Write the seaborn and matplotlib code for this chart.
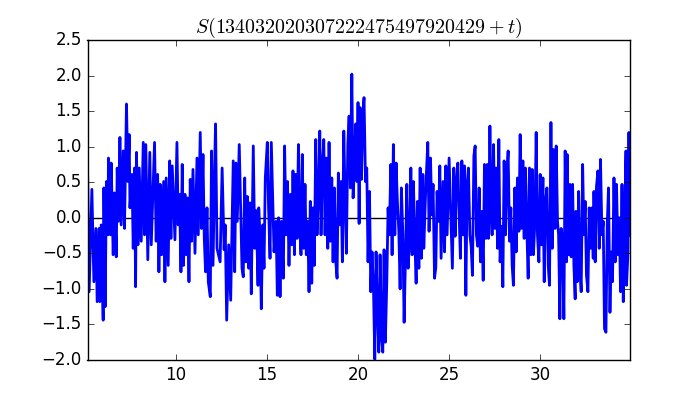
import numpy as np
import matplotlib
matplotlib.use('Agg')
import matplotlib.pyplot as plt
import seaborn as sns

# values (t, S)
t = [5.14, 5.23, 5.38, 5.49, 5.60, 5.67, 5.78, 5.82, 5.89, 6.00,
     6.04, 6.11, 6.18, 6.26, 6.29, 6.40, 6.44, 6.55, 6.62, 6.72,
     6.77, 6.84, 6.92, 6.99, 7.10, 7.17, 7.28, 7.36, 7.43, 7.47,
     7.58, 7.65, 7.72, 7.78, 7.83, 7.91, 7.98, 8.09, 8.20, 8.27,
     8.34, 8.45, 8.56, 8.64, 8.82, 8.91, 8.99, 9.06, 9.13, 9.21,
     9.32, 9.39, 9.46, 9.57, 9.65, 9.72, 9.79, 9.94, 10.05, 10.12,
     10.19, 10.27, 10.34, 10.41, 10.49, 10.56, 10.63, 10.71, 10.78, 10.85,
     10.93, 11.04, 11.15, 11.22, 11.33, 11.40, 11.48, 11.55, 11.62, 11.70,
     11.77, 11.88, 11.95, 12.03, 12.14, 12.17, 12.25, 12.42, 12.53, 12.64,
     12.70, 12.78, 12.89, 13.00, 13.07, 13.14, 13.22, 13.29, 13.36, 13.47,
     13.55, 13.62, 13.69, 13.77, 13.84, 13.91, 13.99, 14.06, 14.13, 14.24,
     14.32, 14.40, 14.50, 14.54, 14.61, 14.68, 14.76, 14.83, 14.90, 15.01,
     15.08, 15.16, 15.23, 15.30, 15.38, 15.49, 15.56, 15.63, 15.71, 15.78,
     15.89, 15.96, 16.04, 16.12, 16.20, 16.28, 16.35, 16.42, 16.50, 16.57,
     16.64, 16.72, 16.79, 16.86, 16.93, 17.01, 17.08, 17.15, 17.23, 17.30,
     17.37, 17.45, 17.52, 17.59, 17.67, 17.74, 17.82, 17.89, 17.96, 18.03,
     18.11, 18.18, 18.25, 18.33, 18.40, 18.47, 18.55, 18.62, 18.69, 18.77,
     18.84, 18.91, 18.99, 19.06, 19.13, 19.21, 19.28, 19.35, 19.43, 19.50,
     19.57, 19.65, 19.72, 19.79, 19.86, 19.93, 19.99, 20.05, 20.10, 20.18,
     20.25, 20.32, 20.40, 20.47, 20.54, 20.62, 20.69, 20.76, 20.84, 20.91,
     20.98, 21.06, 21.13, 21.20, 21.28, 21.35, 21.42, 21.49, 21.57, 21.64,
     21.71, 21.79, 21.86, 21.93, 22.01, 22.08, 22.15, 22.23, 22.30, 22.37,
     22.45, 22.52, 22.59, 22.67, 22.74, 22.82, 22.89, 22.96, 23.03, 23.11,
     23.18, 23.25, 23.33, 23.40, 23.47, 23.55, 23.60, 23.68, 23.75, 23.82,
     23.89, 23.97, 24.04, 24.11, 24.19, 24.26, 24.33, 24.41, 24.48, 24.55,
     24.66, 24.74, 24.81, 24.88, 24.99, 25.10, 25.17, 25.25, 25.32, 25.39,
     25.47, 25.54, 25.61, 25.69, 25.76, 25.83, 25.91, 25.98, 26.05, 26.13,
     26.20, 26.27, 26.35, 26.42, 26.49, 26.56, 26.64, 26.71, 26.79, 26.86,
     26.93, 27.01, 27.08, 27.15, 27.23, 27.30, 27.35, 27.43, 27.50, 27.57,
     27.65, 27.72, 27.79, 27.87, 27.94, 28.01, 28.09, 28.16, 28.23, 28.31,
     28.38, 28.45, 28.52, 28.60, 28.67, 28.74, 28.82, 28.89, 28.96, 29.04,
     29.11, 29.18, 29.26, 29.33, 29.40, 29.48, 29.55, 29.62, 29.70, 29.77,
     29.84, 29.92, 29.99, 30.06, 30.14, 30.21, 30.28, 30.36, 30.43, 30.50,
     30.58, 30.65, 30.72, 30.80, 30.87, 30.94, 31.00, 31.07, 31.14, 31.22,
     31.29, 31.36, 31.44, 31.47, 31.55, 31.62, 31.69, 31.77, 31.84, 31.91,
     31.95, 32.02, 32.10, 32.17, 32.24, 32.32, 32.39, 32.46, 32.53, 32.61,
     32.68, 32.75, 32.83, 32.90, 32.94, 33.01, 33.08, 33.16, 33.23, 33.30,
     33.38, 33.45, 33.52, 33.60, 33.67, 33.74, 33.82, 33.89, 33.96, 34.04,
     34.11, 34.18, 34.26, 34.33, 34.40, 34.48, 34.55, 34.62, 34.70, 34.73,
     34.81, 34.86, 34.92]

s = [0.77, -1.04, 0.40, -0.90, -0.15, -1.18, -0.15, -1.18, -0.10, -1.44,
     0.42, -1.25, 0.51, -0.24, 0.84, -0.24, 0.77, -0.52, 0.35, -0.55,
     0.70, -0.05, 1.13, -0.10, 0.94, -0.15, 1.60, 0.51, 1.17, 0.14,
     0.61, -0.43, 0.70, -0.97, 0.92, -0.38, 0.70, -0.33, 1.06, -0.24,
     1.03, -0.59, 0.92, -0.38, 1.06, -0.33, 0.61, -0.76, 0.47, -0.52,
     0.51, -0.90, 0.56, -0.67, 0.80, -0.29, 0.73, -0.31, 1.06, -0.10,
     0.33, -0.76, 0.75, -0.67, 0.33, -0.52, 0.28, -0.90, 0.54, -0.33,
     0.68, -0.50, 0.84, -0.24, 1.20, -0.15, 0.89, -0.29, -0.76, 0.14,
     -0.90, -1.11, 0.94, -0.67, 0.99, 1.32, -0.43, -0.62, 0.70, -0.45,
     -0.10, -1.44, -0.38, -1.16, -0.15, 0.80, -0.76, 0.77, -0.05, 1.03,
     0.10, -0.71, -0.83, 0.56, -0.62, 0.30, -0.71, 0.21, -1.07, 1.01,
     -0.43, 0.10, -0.95, 0.14, -0.24, -1.28, -0.10, -0.71, 0.56, 1.06,
     0.14, -0.57, 1.06, 0.33, -0.48, -0.05, -1.09, 0.00, -1.11, -0.05,
     -0.85, 1.01, -0.24, 0.51, -0.67, 0.33, -0.38, 0.66, -0.52, 0.61,
     -0.29, 1.03, -0.15, -0.52, 0.89, -0.43, 0.47, -0.52, -0.05, -1.04,
     0.23, -0.92, 0.14, -0.67, 1.10, -0.24, 0.35, 1.22, -0.24, 0.70,
     1.10, -0.24, 0.84, -0.43, 1.06, -0.33, 0.56, -0.62, 0.42, -0.62,
     -0.85, 0.63, -0.10, 0.51, -0.62, 1.22, 0.28, -0.50, 1.03, 1.43,
     0.42, 2.02, 0.28, 0.70, 1.32, 0.51, 1.62, -0.08, 1.55, 0.54,
     1.46, 1.69, 0.51, 0.70, -0.62, 0.37, -1.04, -0.48, -1.00, -1.99,
     -0.48, -1.33, -1.89, -0.52, -1.70, -1.89, -0.45, -1.75, -0.90, 0.14,
     -0.24, 0.75, -0.52, 1.03, -0.24, 0.77, 0.23, -0.19, -1.00, 0.42,
     -0.24, -1.47, -0.62, 0.47, -0.71, -0.30, 0.70, -0.52, 0.51, -0.33,
     -0.92, 0.23, -0.71, 0.70, -0.57, 0.61, -0.43, 0.20, 0.66, 1.06,
     -0.19, 0.84, 0.04, 0.47, -0.85, -0.70, 0.37, -0.05, 0.73, -0.57,
     0.51, -0.48, 0.73, -0.24, 0.84, -0.10, -0.71, 0.70, -0.26, 0.47,
     0.77, 0.04, -0.57, 0.80, -0.24, 0.73, -1.09, 0.47, 0.70, -0.24,
     -0.40, -0.81, 0.87, 1.01, -0.24, -0.40, 0.42, -0.62, 0.09, -0.88,
     0.75, -0.29, 0.75, -0.29, 1.29, 0.04, -0.24, 1.03, -0.15, 0.70,
     -0.43, 1.10, -0.62, -0.12, -0.97, 0.80, -0.24, 0.61, 0.94, -0.33,
     0.14, -0.67, -0.95, 0.42, -0.48, 0.56, -0.19, 1.17, -0.15, 0.80,
     -0.29, 0.70, -0.19, -0.85, 0.70, -0.52, 0.68, -0.52, -0.05, 1.20,
     -0.24, -0.62, 0.61, -0.38, 0.56, -0.90, 0.23, 0.42, -0.67, -0.95,
     1.34, -0.43, 0.96, -0.15, 1.01, -0.05, -0.24, -1.42, -0.15, -0.30,
     -1.42, 0.94, -0.62, 0.89, -0.52, 0.47, -0.55, 0.47, -0.67, -1.14,
     0.09, -0.90, 0.37, -0.71, -1.04, 0.75, -0.24, 0.23, -0.81, -1.04,
     0.14, -0.43, 0.14, -0.57, 0.37, -0.62, 0.44, 0.66, -0.43, 0.82,
     -0.24, -0.05, -1.56, -1.61, -0.10, 0.42, -1.33, -0.48, -0.90, 0.56,
     -0.62, 0.47, -0.52, 0.00, -1.04, 0.47, -1.18, -0.05, 0.94, -0.95,
     -0.48, 1.20, -0.25]

title = r'$S(134032020307222475497920429 + t)$'

plt.style.use('classic')
fig, ax = plt.subplots(figsize=(7, 4), dpi=100)

ax.axhline(0, color='k')
sns.lineplot(x=np.array(t), y=np.array(s), color='blue', linewidth=2,
             sort=False, estimator=None, ax=ax)

ax.set_xlim(t[0], t[-1])
ax.set_ylim(-2.0, 2.5)
ax.set_title(title)
ax.set_xlabel('')
ax.set_ylabel('')

fig.savefig('out.png', dpi=100, facecolor='white')
